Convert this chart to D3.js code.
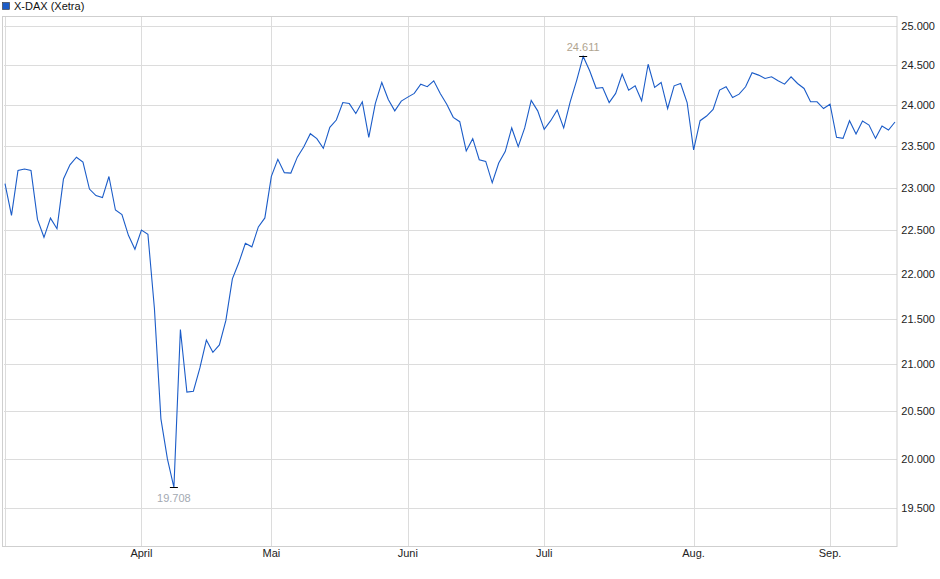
<!DOCTYPE html>
<html><head><meta charset="utf-8">
<script src="https://cdn.jsdelivr.net/npm/d3@7"></script>
<style>body{margin:0;background:#fff}svg{font-family:"Liberation Sans",Arial,sans-serif}</style>
</head><body>
<script>
// trading-day closes, 3 Mar .. 15 Sep
const values = [
  23048,22674,23206,23223,23206,22628,22420,22643,22520,23104,
  23274,23365,23306,22985,22907,22884,23134,22738,22683,22443,
  22283,22503,22454,21612,20417,20000,19708,21380,20700,20710,
  20960,21263,21130,21210,21480,21945,22130,22350,22310,22540,
  22645,23135,23340,23180,23175,23366,23492,23650,23590,23472,
  23727,23817,24033,24020,23898,24042,23605,24020,24283,24070,
  23930,24050,24100,24146,24262,24230,24304,24146,24012,23850,
  23797,23441,23590,23335,23315,23059,23295,23433,23720,23492,
  23720,24060,23930,23703,23809,23940,23720,24042,24310,24611,
  24430,24210,24220,24033,24146,24387,24187,24241,24054,24512,
  24221,24283,23959,24241,24270,24033,23453,23809,23866,23947,
  24187,24229,24096,24137,24229,24404,24375,24333,24354,24304,
  24262,24354,24270,24208,24042,24042,23959,24012,23605,23593,
  23809,23646,23805,23756,23593,23744,23695,23793
];
const monthIdx = [0, 21, 41, 62, 83, 106, 127];
const monthLabels = ["", "April", "Mai", "Juni", "Juli", "Aug.", "Sep."];
const yTicks = [19500,20000,20500,21000,21500,22000,22500,23000,23500,24000,24500,25000];
const seriesName = "X-DAX (Xetra)";

const W = 940, H = 579;
const pL = 4, pR = 897, pT = 16, pB = 546;
const de = d3.formatLocale({decimal: ",", thousands: ".", grouping: [3], currency: ["", "€"]});
const fmt = de.format(",d");

const svg = d3.select("body").append("svg").attr("width", W).attr("height", H);

const x = d3.scaleLinear().domain([0, values.length - 1]).range([5, 895]);
const y = d3.scaleLog().domain([19500, 25000]).range([508, 26]);

// grid
svg.append("g").selectAll("line").data(yTicks).enter().append("line")
  .attr("x1", pL).attr("x2", pR)
  .attr("y1", d => Math.round(y(d)) + 0.5).attr("y2", d => Math.round(y(d)) + 0.5)
  .attr("stroke", "#dcdcdc");
svg.append("g").selectAll("line").data(monthIdx).enter().append("line")
  .attr("x1", d => Math.round(x(d)) + 0.5).attr("x2", d => Math.round(x(d)) + 0.5)
  .attr("y1", pT).attr("y2", pB)
  .attr("stroke", "#dcdcdc");
svg.append("rect").attr("x", pL - 1.5).attr("y", pT + 0.5)
  .attr("width", pR - pL + 1.5).attr("height", pB - pT)
  .attr("fill", "none").attr("stroke", "#cfcfcf");

// axis labels
svg.append("g").selectAll("text").data(yTicks).enter().append("text")
  .attr("x", 935).attr("y", d => y(d) + 4).attr("text-anchor", "end")
  .attr("font-size", 11).attr("fill", "#222").text(d => fmt(d));
svg.append("g").selectAll("text").data(monthIdx).enter().append("text")
  .attr("x", d => x(d)).attr("y", 557).attr("text-anchor", "middle")
  .attr("font-size", 11).attr("fill", "#222").text((d, i) => monthLabels[i]);

// line
const line = d3.line().x((d, i) => x(i)).y(d => y(d));
svg.append("path").datum(values).attr("d", line)
  .attr("fill", "none").attr("stroke", "#1b5cc8").attr("stroke-width", 1.1);

// min / max markers
const iMin = d3.minIndex(values), iMax = d3.maxIndex(values);
[[iMin, 14, "#a3a9b2"], [iMax, -6, "#b0a48f"]].forEach(([i, dy, c]) => {
  const px = x(i), py = Math.round(y(values[i])) + 0.5;
  svg.append("line").attr("x1", px - 4).attr("x2", px + 4).attr("y1", py).attr("y2", py)
    .attr("stroke", "#000");
  svg.append("text").attr("x", px).attr("y", py + dy).attr("text-anchor", "middle")
    .attr("font-size", 11).attr("fill", c).text(fmt(values[i]));
});

// legend
svg.append("rect").attr("x", 2.5).attr("y", 2.5).attr("width", 7).attr("height", 7)
  .attr("fill", "#1b5cc8").attr("stroke", "#333").attr("stroke-width", 0.6);
svg.append("text").attr("x", 14).attr("y", 10).attr("font-size", 11).attr("fill", "#111").text(seriesName);
</script>
</body></html>
